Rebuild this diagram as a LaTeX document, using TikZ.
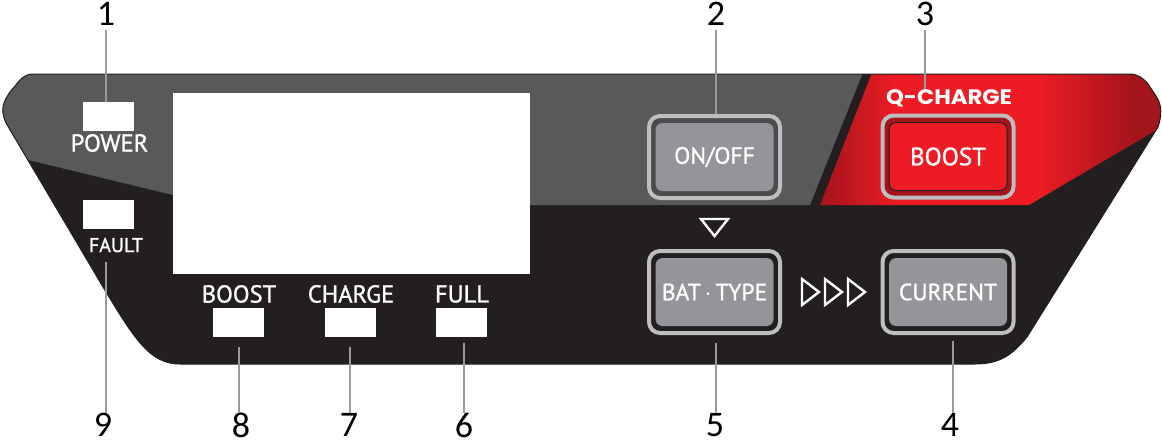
\documentclass[tikz,border=0pt]{standalone}
\usepackage{fontspec}
\setmainfont{Carlito}
\newfontfamily\wideface[FakeStretch=1.08]{Poppins}
\newfontfamily\labelface[FakeBold=1.1]{PT Sans}
\definecolor{panelblack}{HTML}{231F20}
\definecolor{panelgrey}{HTML}{57595B}
\definecolor{btngrey}{HTML}{939598}
\definecolor{rimgrey}{HTML}{BCBEC0}
\definecolor{leadergrey}{HTML}{9A9A9A}
\definecolor{brightred}{HTML}{ED1C24}
\definecolor{darkred}{HTML}{A3141B}
\pgfdeclarehorizontalshading{redband}{100bp}{
  color(0bp)=(darkred); color(25bp)=(darkred); color(36bp)=(brightred);
  color(56bp)=(brightred); color(70bp)=(darkred); color(100bp)=(darkred)}
\def\panelpath{(33,74) -- (1129,74) .. controls (1138,74) and (1143,78) .. (1148,84) -- (1156,96)
  .. controls (1162,105) and (1162,115) .. (1158,127) -- (1027,337)
  .. controls (1012,355) and (1000,364) .. (975,364) -- (180,364)
  .. controls (150,364) and (135,340) .. (103,287) -- (6,123)
  .. controls (0,110) and (3,102) .. (10,92) -- (20,80) .. controls (24,76) and (28,74) .. (33,74) -- cycle}
\tikzset{
  led/.style={fill=white,minimum width=51pt,minimum height=29pt,inner sep=0pt},
  ledlabel/.style={text=white,inner sep=0pt,font=\labelface\fontsize{24.5}{24.5}\selectfont},
  btnrim/.style={draw=rimgrey,line width=4pt,rounded corners=11pt,minimum width=131pt,minimum height=82pt,inner sep=0pt},
  btnface/.style={fill=btngrey,rounded corners=7pt,minimum width=118pt,minimum height=68pt,inner sep=0pt,text=white,font=\labelface\fontsize{23.5}{23.5}\selectfont},
  number/.style={inner sep=0pt,font=\fontsize{36}{36}\selectfont},
  leader/.style={draw=leadergrey,line width=2pt},
  arrowmark/.style={draw=white,line width=2.4pt,line join=miter}
}
\begin{document}
\begin{tikzpicture}[x=1pt,y=-1pt]
\useasboundingbox (0,0) rectangle (1162,440);

% panel
\fill[panelblack] \panelpath;
\begin{scope}
  \clip \panelpath;
  \fill[panelgrey] (0,70) -- (864,70) -- (810,205) -- (530,205) -- (173,195) -- (20,158) -- (0,150) -- cycle;
  \shade[shading=redband] (873,70) -- (1170,70) -- (1170,122) -- (1029,205) -- (820,205) -- cycle;
\end{scope}
\draw[panelblack,line width=1pt] \panelpath;

% display and lamps
\node[fill=white,minimum width=357pt,minimum height=181pt,inner sep=0pt] (display) at (351.5,183.5) {};
\node[led] (powerled) at (108.5,116.5) {};
\node[led] (faultled) at (108.5,214.5) {};
\node[led] (boostled) at (238.5,322.5) {};
\node[led] (chargeled) at (350.5,322.5) {};
\node[led] (fullled) at (461.5,322.5) {};

\node[ledlabel] (powerlabel) at (109.5,143) {POWER};
\node[ledlabel,font=\labelface\fontsize{20}{20}\selectfont] (faultlabel) at (116,245) {FAULT};
\node[ledlabel] (boostlabel) at (239,294) {BOOST};
\node[ledlabel] (chargelabel) at (351,294) {CHARGE};
\node[ledlabel] (fulllabel) at (462,294) {FULL};
\node[text=white,inner sep=0pt,font=\wideface\bfseries\fontsize{21}{21}\selectfont] (qcharge) at (949,98) {Q-CHARGE};

% buttons
\node[btnrim,fill=panelgrey!85!black] (onoffrim) at (714.5,157) {};
\node[btnface] (onoff) at (714.5,157) {ON/OFF};
\node[btnrim,fill=darkred] (boostrim) at (948,156.5) {};
\node[btnface,fill=brightred,draw=panelblack,line width=1pt,font=\labelface\fontsize{25}{25}\selectfont] (boost) at (948,156.5) {BOOST};
\node[btnrim,fill=panelblack] (battyperim) at (714.5,292) {};
\node[btnface] (battype) at (714.5,292) {BAT\,$\cdot$\,TYPE};
\node[btnrim,fill=panelblack] (currentrim) at (948,292) {};
\node[btnface] (current) at (948,292) {CURRENT};

% arrows
\draw[arrowmark] (701,219) -- (728,219) -- (714.5,236) -- cycle;
\foreach \x in {802,825,848} {
  \draw[arrowmark] (\x,279) -- (\x+17,292) -- (\x,305) -- cycle;
}

% numbers
\foreach \k/\x/\y in {1/106/14, 2/716/14, 3/925/14, 4/950/425, 5/715/425, 6/464/425, 7/349/425, 8/241/425, 9/103/425} {
  \node[number] (n\k) at (\x,\y) {\k};
}

\coordinate (t1) at (106,30);
\coordinate (t2) at (716,30);
\coordinate (t3) at (925,30);
\coordinate (t4) at (953,341);
\coordinate (t5) at (716,343);
\coordinate (t6) at (464,343);
\coordinate (t7) at (350,347);
\coordinate (t8) at (239,347);
\coordinate (t9) at (106,262);
\draw[leader] (t1) -- (t1 |- powerled.north);
\draw[leader] (t2) -- (t2 |- onoffrim.north);
\draw[leader] (t3) -- (t3 |- qcharge.north);
\foreach \k in {4,...,9} {
  \draw[leader] (t\k) -- (t\k |- n\k.north);
}

\end{tikzpicture}
\end{document}
